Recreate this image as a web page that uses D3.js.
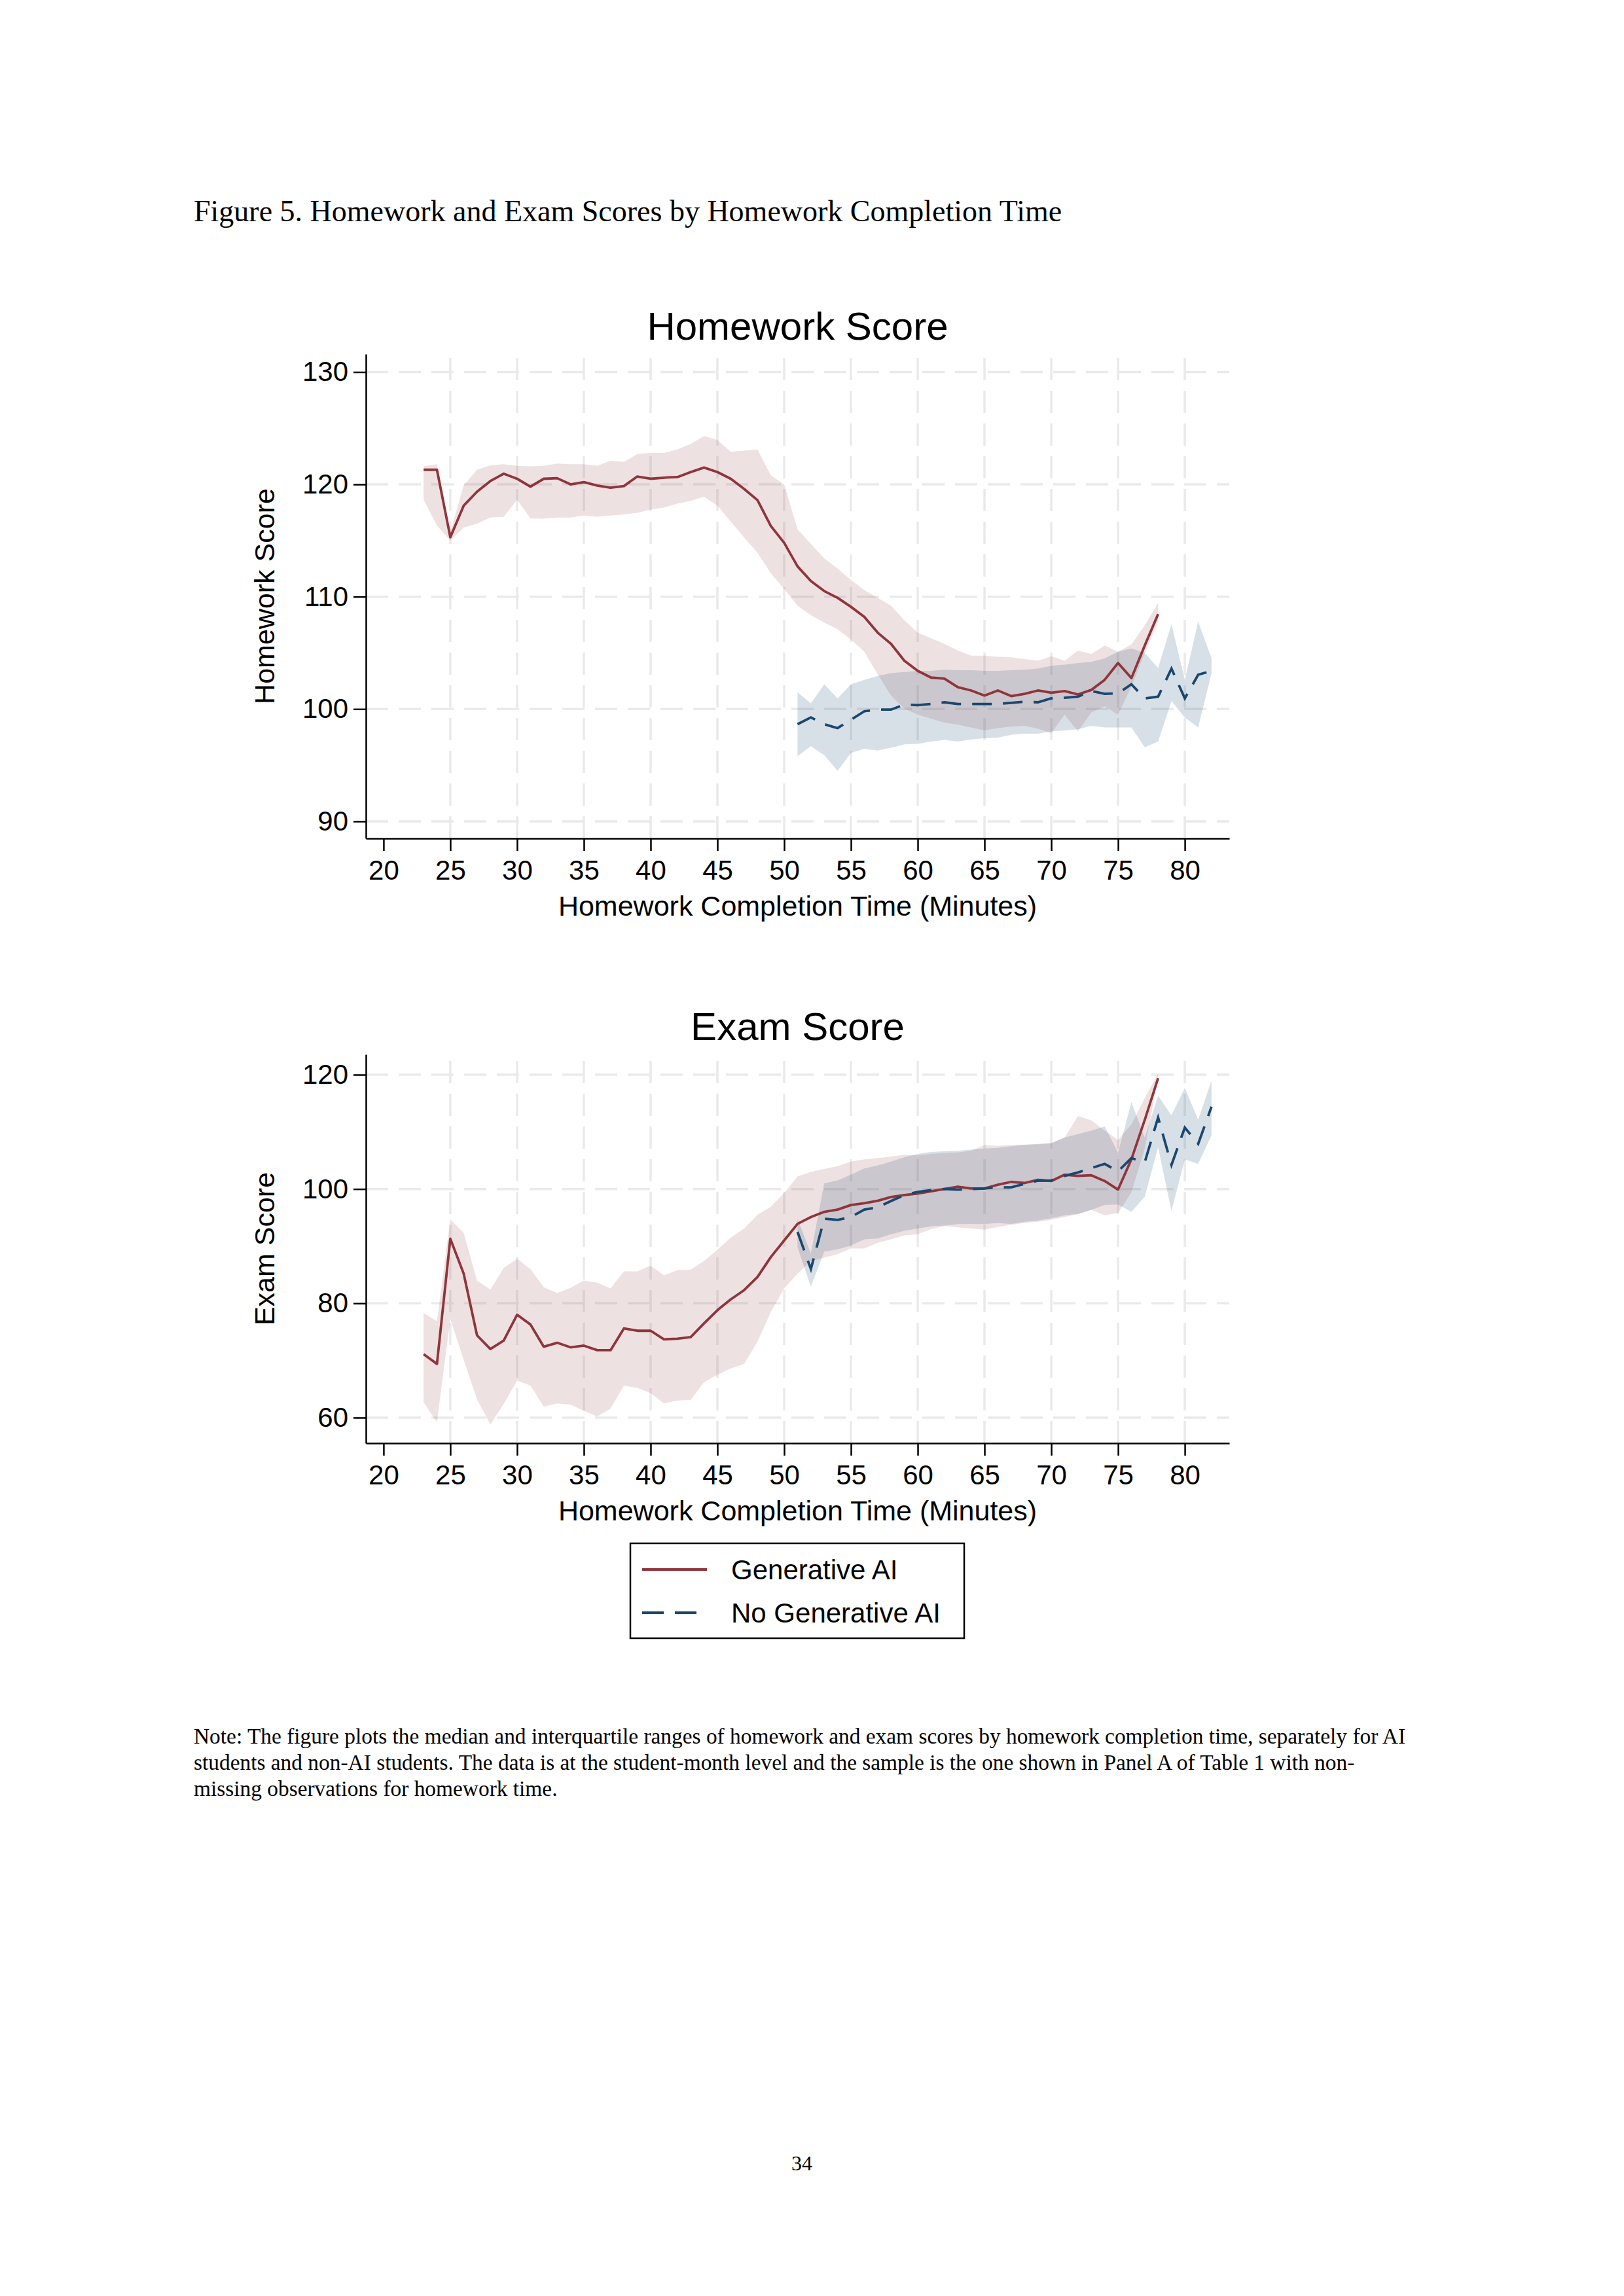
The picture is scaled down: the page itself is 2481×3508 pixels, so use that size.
<!DOCTYPE html>
<html>
<head>
<meta charset="utf-8">
<script src="https://cdn.jsdelivr.net/npm/d3@7"></script>
<style>
  body { margin: 0; background: #fff; }
  svg { display: block; }
</style>
</head>
<body>
<svg id="page" width="2481" height="3508"></svg>
<script>
// minutes on the x axis
var aiMinutes = [23, 24, 25, 26, 27, 28, 29, 30, 31, 32, 33, 34, 35, 36, 37, 38, 39, 40, 41, 42,
  43, 44, 45, 46, 47, 48, 49, 50, 51, 52, 53, 54, 55, 56, 57, 58, 59, 60, 61, 62,
  63, 64, 65, 66, 67, 68, 69, 70, 71, 72, 73, 74, 75, 76, 77, 78];
var noAiMinutes = [51, 52, 53, 54, 55, 56, 57, 58, 59, 60, 61, 62, 63, 64, 65, 66,
  67, 68, 69, 70, 71, 72, 73, 74, 75, 76, 77, 78, 79, 80, 81, 82];

// homework score, Generative AI: median, p75, p25
var hwAiMed = [121.3, 121.3, 115.3, 118.1, 119.35, 120.3, 120.95, 120.5, 119.8, 120.5, 120.55, 120.0, 120.2, 119.9, 119.7, 119.85, 120.7, 120.5, 120.6, 120.65,
  121.1, 121.5, 121.1, 120.5, 119.6, 118.6, 116.3, 114.8, 112.7, 111.4, 110.5, 109.9, 109.1, 108.2, 106.8, 105.8, 104.3, 103.4, 102.8, 102.7,
  101.95, 101.65, 101.2, 101.65, 101.15, 101.35, 101.65, 101.45, 101.6, 101.3, 101.7, 102.6, 104.1, 102.75, 105.65, 108.45];
var hwAiHi = [121.6, 121.8, 115.7, 119.9, 121.3, 121.7, 121.8, 121.65, 121.6, 121.65, 121.85, 121.8, 121.8, 121.65, 122.1, 122.0, 122.7, 122.8, 122.8, 123.1,
  123.6, 124.3, 123.95, 122.9, 123.0, 123.1, 120.8, 120.0, 116.0, 114.7, 113.4, 112.5, 111.5, 110.6, 109.9, 109.2, 107.9, 106.8, 106.3, 105.8,
  105.2, 104.75, 104.75, 104.65, 104.6, 104.45, 104.3, 104.7, 104.3, 105.2, 104.9, 105.65, 105.1, 105.75, 107.45, 109.45];
var hwAiLo = [118.64, 116.34, 114.99, 116.16, 116.51, 117.05, 117.12, 118.64, 116.97, 116.94, 117.05, 117.05, 117.22, 117.12, 117.22, 117.33, 117.47, 117.76, 117.93, 118.29,
  118.54, 118.89, 118.11, 116.69, 115.27, 113.92, 112.08, 110.7, 109.2, 108.35, 107.7, 107.1, 106.2, 105.1, 103.1, 101.2, 100.05, 99.5, 99.15, 98.8,
  98.6, 98.35, 98.1, 98.3, 98.45, 98.5, 98.25, 97.85, 99.5, 98.0, 99.7, 100.25, 99.5, 102.0, 105.0, 107.8];

// homework score, No Generative AI
var hwNoMed = [98.65, 99.25, 98.65, 98.3, 99.05, 99.8, 99.95, 99.95, 100.4, 100.35, 100.45, 100.6, 100.45, 100.45, 100.45, 100.45,
  100.55, 100.65, 100.6, 100.95, 101.0, 101.1, 101.6, 101.35, 101.4, 102.2, 100.95, 101.1, 103.6, 100.95, 103.05, 103.4];
var hwNoHi = [101.5, 100.5, 102.2, 100.95, 102.2, 102.6, 102.95, 103.2, 103.3, 103.4, 103.4, 103.5, 103.45, 103.45, 103.4, 103.4,
  103.45, 103.5, 103.6, 103.85, 103.95, 104.1, 104.2, 104.5, 105.1, 105.4, 105.0, 103.65, 107.55, 102.6, 107.8, 104.5];
var hwNoLo = [95.8, 96.7, 95.9, 94.5, 96.1, 96.45, 96.3, 96.55, 96.85, 96.9, 97.1, 97.25, 97.1, 97.3, 97.4, 97.45,
  97.7, 97.8, 97.8, 98.0, 98.1, 98.2, 98.5, 98.35, 98.35, 98.35, 96.6, 97.1, 100.7, 99.25, 98.35, 103.2];

// exam score, Generative AI
var exAiMed = [71.1, 69.4, 91.3, 85.2, 74.4, 72.0, 73.5, 78.0, 76.3, 72.4, 73.1, 72.3, 72.6, 71.8, 71.8, 75.6, 75.2, 75.2, 73.7, 73.8,
  74.1, 76.5, 78.8, 80.7, 82.3, 84.6, 88.1, 91.0, 93.9, 95.1, 96.0, 96.4, 97.2, 97.5, 97.95, 98.6, 98.95, 99.2, 99.6, 100.0,
  100.4, 100.1, 100.1, 100.75, 101.25, 101.05, 101.6, 101.4, 102.5, 102.3, 102.4, 101.4, 99.9, 105.2, 112.1, 119.4];
var exAiHi = [78.3, 76.9, 94.7, 92.3, 84.0, 82.4, 86.2, 87.8, 86.0, 82.8, 81.8, 82.7, 84.0, 83.6, 82.6, 85.6, 85.6, 86.6, 84.9, 85.8,
  85.9, 87.4, 89.4, 91.5, 93.1, 95.5, 96.9, 99.3, 102.2, 103.0, 103.5, 104.0, 104.8, 105.2, 105.4, 105.7, 106.0, 105.9, 106.15, 106.3,
  106.4, 106.7, 107.7, 107.55, 107.7, 107.75, 107.8, 107.95, 109.0, 112.8, 112.0, 110.2, 108.6, 111.3, 115.9, 120.2];
var exAiLo = [62.7, 59.2, 77.3, 70.1, 63.2, 58.8, 62.4, 66.5, 65.6, 61.9, 62.5, 62.3, 61.2, 60.2, 61.6, 65.6, 65.2, 64.3, 62.5, 63.0,
  63.1, 66.2, 67.5, 68.6, 69.4, 73.3, 78.5, 82.6, 85.2, 87.4, 88.0, 88.6, 89.6, 89.6, 90.6, 91.2, 91.9, 92.1, 93.0, 93.5,
  93.3, 93.1, 92.9, 93.35, 93.75, 94.05, 94.25, 94.6, 95.1, 95.6, 96.35, 95.4, 95.8, 99.4, 107.1, 119.6];

// exam score, No Generative AI
var exNoMed = [92.5, 86.0, 94.8, 94.6, 95.1, 96.4, 96.8, 97.9, 98.95, 99.5, 99.8, 100.0, 99.9, 100.0, 100.1, 100.3,
  100.3, 100.9, 101.45, 101.5, 102.3, 102.9, 103.65, 104.4, 103.1, 105.4, 104.7, 112.5, 104.2, 110.75, 107.9, 114.4];
var exNoHi = [94.8, 88.7, 101.0, 101.5, 102.5, 103.6, 104.1, 104.8, 105.55, 106.15, 106.5, 106.6, 106.7, 106.9, 107.1, 107.2,
  107.5, 107.75, 107.9, 108.05, 109.0, 109.6, 110.2, 110.95, 106.35, 115.2, 109.0, 116.3, 112.9, 117.7, 112.1, 119.0];
var exNoLo = [89.8, 82.9, 89.05, 89.45, 90.1, 91.2, 91.35, 92.1, 92.7, 93.1, 93.5, 93.6, 93.85, 93.9, 93.85, 94.05,
  93.85, 94.25, 94.5, 94.9, 95.4, 95.65, 96.35, 97.2, 97.3, 96.0, 98.65, 107.3, 96.15, 105.2, 104.4, 109.4];

var xTicks = [20, 25, 30, 35, 40, 45, 50, 55, 60, 65, 70, 75, 80];
var xGridTicks = [25, 30, 35, 40, 45, 50, 55, 60, 65, 70, 75, 80];
var hwTicks = [90, 100, 110, 120, 130];
var exTicks = [60, 80, 100, 120];
var seriesNames = ['Generative AI', 'No Generative AI'];

var aiColor = '#90353b';
var noAiColor = '#1a476f';
var sans = '"Liberation Sans", Arial, Helvetica, sans-serif';
var serif = '"Liberation Serif", "Times New Roman", serif';

var svg = d3.select('#page');
svg.append('rect').attr('width', 2481).attr('height', 3508).attr('fill', '#fff');

var plotLeft = 559, plotRight = 1878;
var x = d3.scaleLinear().domain([18.68, 83.33]).range([plotLeft, plotRight]);

function rows(minutes, med, hi, lo) {
  return minutes.map(function (m, i) { return { m: m, med: med[i], hi: hi[i], lo: lo[i] }; });
}

function drawPanel(opt) {
  var y = d3.scaleLinear().domain(opt.yDomain).range([opt.bottom, opt.top]);
  var g = svg.append('g');

  // grid
  g.selectAll('.hgrid').data(opt.yTicks).enter().append('line')
    .attr('x1', plotLeft).attr('x2', plotRight)
    .attr('y1', function (d) { return y(d); }).attr('y2', function (d) { return y(d); })
    .attr('stroke', '#eaeaea').attr('stroke-width', 3.5).attr('stroke-dasharray', '34 16');
  g.selectAll('.vgrid').data(xGridTicks).enter().append('line')
    .attr('x1', function (d) { return x(d); }).attr('x2', function (d) { return x(d); })
    .attr('y1', opt.bottom).attr('y2', opt.top)
    .attr('stroke', '#eaeaea').attr('stroke-width', 3.5).attr('stroke-dasharray', '34 16');

  var area = d3.area().x(function (d) { return x(d.m); })
    .y0(function (d) { return y(d.lo); }).y1(function (d) { return y(d.hi); });
  var line = d3.line().x(function (d) { return x(d.m); }).y(function (d) { return y(d.med); });

  g.append('path').datum(opt.ai).attr('d', area).attr('fill', aiColor).attr('fill-opacity', 0.15);
  g.append('path').datum(opt.noAi).attr('d', area).attr('fill', noAiColor).attr('fill-opacity', 0.17);
  g.append('path').datum(opt.ai).attr('d', line).attr('fill', 'none')
    .attr('stroke', aiColor).attr('stroke-width', 3.8).attr('stroke-linejoin', 'round');
  g.append('path').datum(opt.noAi).attr('d', line).attr('fill', 'none')
    .attr('stroke', noAiColor).attr('stroke-width', 3.8).attr('stroke-dasharray', '30 17');

  // axes
  var xAxis = g.append('g').attr('transform', 'translate(0,' + opt.bottom + ')')
    .call(d3.axisBottom(x).tickValues(xTicks).tickSize(19).tickSizeOuter(0).tickPadding(14));
  var yAxis = g.append('g').attr('transform', 'translate(' + plotLeft + ',0)')
    .call(d3.axisLeft(y).tickValues(opt.yTicks).tickSize(19).tickSizeOuter(0).tickPadding(8));
  [xAxis, yAxis].forEach(function (a) {
    a.selectAll('path, line').attr('stroke', '#000').attr('stroke-width', 2.5);
    a.selectAll('text').attr('font-family', sans).attr('font-size', 42).attr('fill', '#000');
  });

  g.append('text').attr('x', (plotLeft + plotRight) / 2).attr('y', opt.top - 22)
    .attr('text-anchor', 'middle').attr('font-family', sans).attr('font-size', 60)
    .text(opt.title);
  g.append('text').attr('x', (plotLeft + plotRight) / 2).attr('y', opt.bottom + 118)
    .attr('text-anchor', 'middle').attr('font-family', sans).attr('font-size', 43)
    .text('Homework Completion Time (Minutes)');
  g.append('text')
    .attr('transform', 'translate(419,' + (opt.top + opt.bottom) / 2 + ') rotate(-90)')
    .attr('text-anchor', 'middle').attr('font-family', sans).attr('font-size', 43)
    .text(opt.yTitle);
}

drawPanel({
  title: 'Homework Score', yTitle: 'Homework Score',
  top: 541, bottom: 1281, yDomain: [88.48, 131.6], yTicks: hwTicks,
  ai: rows(aiMinutes, hwAiMed, hwAiHi, hwAiLo),
  noAi: rows(noAiMinutes, hwNoMed, hwNoHi, hwNoLo)
});

drawPanel({
  title: 'Exam Score', yTitle: 'Exam Score',
  top: 1611, bottom: 2205, yDomain: [55.53, 123.55], yTicks: exTicks,
  ai: rows(aiMinutes, exAiMed, exAiHi, exAiLo),
  noAi: rows(noAiMinutes, exNoMed, exNoHi, exNoLo)
});

// legend
var leg = svg.append('g');
leg.append('rect').attr('x', 963).attr('y', 2358).attr('width', 510).attr('height', 145)
  .attr('fill', '#fff').attr('stroke', '#000').attr('stroke-width', 2.5);
leg.selectAll('.key').data(seriesNames).enter().append('line')
  .attr('x1', 981).attr('x2', 1080)
  .attr('y1', function (d, i) { return 2398 + i * 66; }).attr('y2', function (d, i) { return 2398 + i * 66; })
  .attr('stroke', function (d, i) { return i === 0 ? aiColor : noAiColor; })
  .attr('stroke-width', 3.8)
  .attr('stroke-dasharray', function (d, i) { return i === 0 ? null : '33 17'; });
leg.selectAll('.lab').data(seriesNames).enter().append('text')
  .attr('x', 1117).attr('y', function (d, i) { return 2413 + i * 66; })
  .attr('font-family', sans).attr('font-size', 42).text(function (d) { return d; });

// page text
svg.append('text').attr('x', 296).attr('y', 338).attr('font-family', serif).attr('font-size', 46)
  .text('Figure 5. Homework and Exam Scores by Homework Completion Time');

var noteLines = [
  'Note: The figure plots the median and interquartile ranges of homework and exam scores by homework completion time, separately for AI',
  'students and non-AI students. The data is at the student-month level and the sample is the one shown in Panel A of Table 1 with non-',
  'missing observations for homework time.'
];
svg.selectAll('.note').data(noteLines).enter().append('text')
  .attr('x', 296).attr('y', function (d, i) { return 2664 + i * 40; })
  .attr('font-family', serif).attr('font-size', 33.4).text(function (d) { return d; });

svg.append('text').attr('x', 1225).attr('y', 3316).attr('text-anchor', 'middle')
  .attr('font-family', serif).attr('font-size', 32).text('34');
</script>
</body>
</html>
